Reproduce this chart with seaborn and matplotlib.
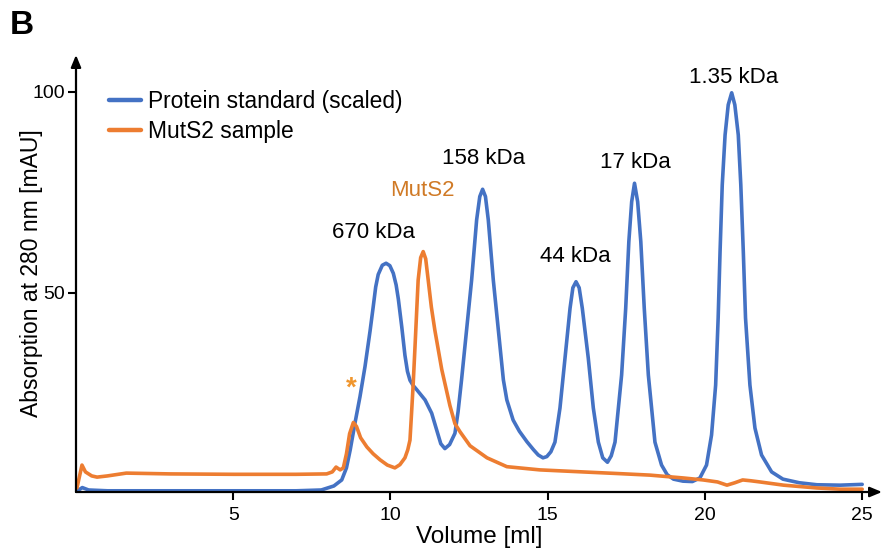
import matplotlib
matplotlib.use("Agg")
import matplotlib.pyplot as plt
import seaborn as sns
import pandas as pd

# ---- data ----
std_x = [0.05, 0.2, 0.4, 1.0, 4.0, 7.0, 7.8, 8.2, 8.45, 8.6, 8.72, 8.87, 9.03, 9.19, 9.35, 9.45,
         9.53, 9.61, 9.74, 9.86, 9.98, 10.09, 10.18, 10.25, 10.36, 10.46, 10.54, 10.62, 10.72,
         10.83, 11.1, 11.31, 11.47, 11.6, 11.73, 11.88, 12.05, 12.15, 12.26, 12.42, 12.58,
         12.74, 12.84, 12.93, 13.02, 13.11, 13.27, 13.43, 13.59, 13.7, 13.9, 14.1, 14.34,
         14.55, 14.7, 14.85, 14.97, 15.1, 15.23, 15.39, 15.55, 15.71, 15.8, 15.9, 16.0, 16.1,
         16.29, 16.45, 16.61, 16.75, 16.9, 17.02, 17.14, 17.35, 17.48, 17.58, 17.67, 17.76,
         17.86, 17.96, 18.07, 18.2, 18.41, 18.62, 18.8, 19.0, 19.3, 19.6, 19.84, 20.05, 20.21,
         20.34, 20.42, 20.48, 20.55, 20.64, 20.74, 20.85, 20.95, 21.06, 21.14, 21.22, 21.29,
         21.43, 21.59, 21.8, 22.12, 22.48, 23.0, 23.56, 24.3, 25.0]
std_y = [0.8, 1.6, 1.0, 0.8, 0.8, 0.8, 1.0, 2.0, 3.5, 6.5, 11, 17.6, 24.2, 31.7, 40.5, 46.5,
         51.5, 54.6, 56.9, 57.4, 56.8, 54.9, 52.0, 48.5, 41.5, 34.5, 30.5, 28.3, 27.0,
         26.0, 23.4, 20.1, 15.9, 12.5, 11.3, 12.3, 15.1, 20.5, 28.4, 40.8, 53.2,
         68.2, 74, 75.8, 74, 68.2, 53.2, 40.8, 28.4, 23.4, 18.4, 15.6, 13,
         11, 9.7, 9, 9.3, 10.5, 12.9, 21.4, 33.8, 46.2, 51.3, 52.8, 51.3, 46.2,
         33.8, 21.4, 12.9, 9, 7.9, 9.5, 12.9, 29.6, 46.2, 62.8, 72.7, 77.3,
         72.7, 62.8, 46.2, 29.6, 12.9, 7.2, 4.8, 3.7, 3.2, 3.1, 4.0, 7.2, 14.7,
         27.1, 43.8, 60.2, 76.9, 89.3, 96.8, 99.8, 96.8, 89.3, 76.9, 60.2, 43.8,
         27.1, 16.4, 9.7, 5.5, 3.7, 2.8, 2.3, 2.2, 2.4]

mut_x = [0.03, 0.1, 0.19, 0.3, 0.5, 0.67, 1.0, 1.6, 3.0, 5.0, 7.0, 7.97, 8.15, 8.27, 8.4, 8.5,
         8.6, 8.7, 8.82, 8.92, 9.05, 9.25, 9.45, 9.67, 9.9, 10.14, 10.3, 10.46, 10.55, 10.62,
         10.67, 10.72, 10.78, 10.88, 10.96, 11.04, 11.12, 11.2, 11.3, 11.41, 11.63, 11.89,
         12.05, 12.21, 12.53, 13.07, 13.7, 14.75, 16.1, 17.2, 18.25, 19.3, 19.94, 20.4,
         20.7, 20.95, 21.2, 21.45, 21.75, 22.5, 23.56, 24.3, 25.0]
mut_y = [1.5, 4, 7.2, 5.5, 4.5, 4.2, 4.5, 5.2, 5.0, 4.9, 4.9, 5.0, 5.5, 6.7, 6.0, 6.5,
         10, 15, 17.8, 16.8, 14, 11.7, 10, 8.5, 7.2, 6.5, 7.3, 9, 11, 13.4,
         20.1, 27, 36.6, 53.2, 58.8, 60.3, 58.5, 53.2, 46.5, 40.8, 31, 22,
         17.5, 15.5, 12, 9, 6.8, 6.0, 5.5, 5.1, 4.7, 4.0, 3.5, 3.0,
         2.2, 2.8, 3.5, 3.3, 3.0, 2.2, 1.5, 1.2, 1.2]

peak_labels = ["670 kDa", "158 kDa", "44 kDa", "17 kDa", "1.35 kDa"]
peak_label_x = [9.45, 12.97, 15.87, 17.8, 20.9]
peak_label_y = [65.0, 83.5, 59.0, 82.5, 103.5]

x_ticks = [5, 10, 15, 20, 25]
y_ticks = [50, 100]

BLUE = "#4472C4"
ORANGE = "#ED7D31"

sns.set_theme(style="white")
plt.rcParams["font.family"] = ["Liberation Sans", "DejaVu Sans"]
plt.rcParams.update({"text.color": "black", "axes.labelcolor": "black",
                     "xtick.color": "black", "ytick.color": "black"})

df = pd.concat([
    pd.DataFrame({"Volume": std_x, "Abs": std_y, "Series": "Protein standard (scaled)"}),
    pd.DataFrame({"Volume": mut_x, "Abs": mut_y, "Series": "MutS2 sample"}),
], ignore_index=True)

fig = plt.figure(figsize=(8.9, 5.5), dpi=100)
ax = fig.add_axes([76 / 890, 58 / 550, 806 / 890, 437 / 550])

sns.lineplot(data=df, x="Volume", y="Abs", hue="Series", sort=False, estimator=None,
             palette=[BLUE, ORANGE], linewidth=2.6, ax=ax)
for ln in ax.get_lines():
    ln.set_solid_joinstyle("round")
    ln.set_solid_capstyle("round")

ax.set_xlim(0, 25.63)
ax.set_ylim(0.5, 109.2)

for s in ax.spines.values():
    s.set_visible(False)

arrow = dict(arrowstyle="-|>,head_length=0.6,head_width=0.25", lw=1.6, color="black",
             shrinkA=0, shrinkB=0)
ax.annotate("", xy=(1, 0), xytext=(0, 0), xycoords="axes fraction",
            textcoords="axes fraction", arrowprops=arrow, annotation_clip=False)
ax.annotate("", xy=(0, 1), xytext=(0, 0), xycoords="axes fraction",
            textcoords="axes fraction", arrowprops=arrow, annotation_clip=False)

ax.set_xticks(x_ticks)
ax.set_yticks(y_ticks)
ax.tick_params(axis="both", which="both", direction="out", length=5.5, width=1.5,
               labelsize=14, bottom=True, left=True)
ax.tick_params(axis="x", pad=5.5)
ax.tick_params(axis="y", pad=2.5)

ax.set_xlabel("Volume [ml]", fontsize=17.5, labelpad=1)
ax.set_ylabel("Absorption at 280 nm [mAU]", fontsize=16.5)
ax.yaxis.set_label_coords(-0.041, 0.5)

for lab, lx, ly in zip(peak_labels, peak_label_x, peak_label_y):
    ax.text(lx, ly, lab, ha="center", va="center", fontsize=16, color="black")

ax.text(11.0, 75.5, "MutS2", ha="center", va="center", fontsize=16, color="#D07A26")
ax.text(8.76, 26.3, "*", ha="center", va="center", fontsize=20, color="#F0962E",
        fontweight="bold")

leg = ax.legend(loc="upper left", bbox_to_anchor=(0.041, 0.919), frameon=False,
                fontsize=16.4, handlelength=1.4, handletextpad=0.3, labelspacing=0.28,
                borderpad=0, borderaxespad=0)
for line in leg.get_lines():
    line.set_linewidth(3.2)

fig.text(22 / 890, 1 - 25 / 550, "B", fontsize=24, fontweight="bold", ha="center", va="center")

fig.savefig("out.png", dpi=100)
